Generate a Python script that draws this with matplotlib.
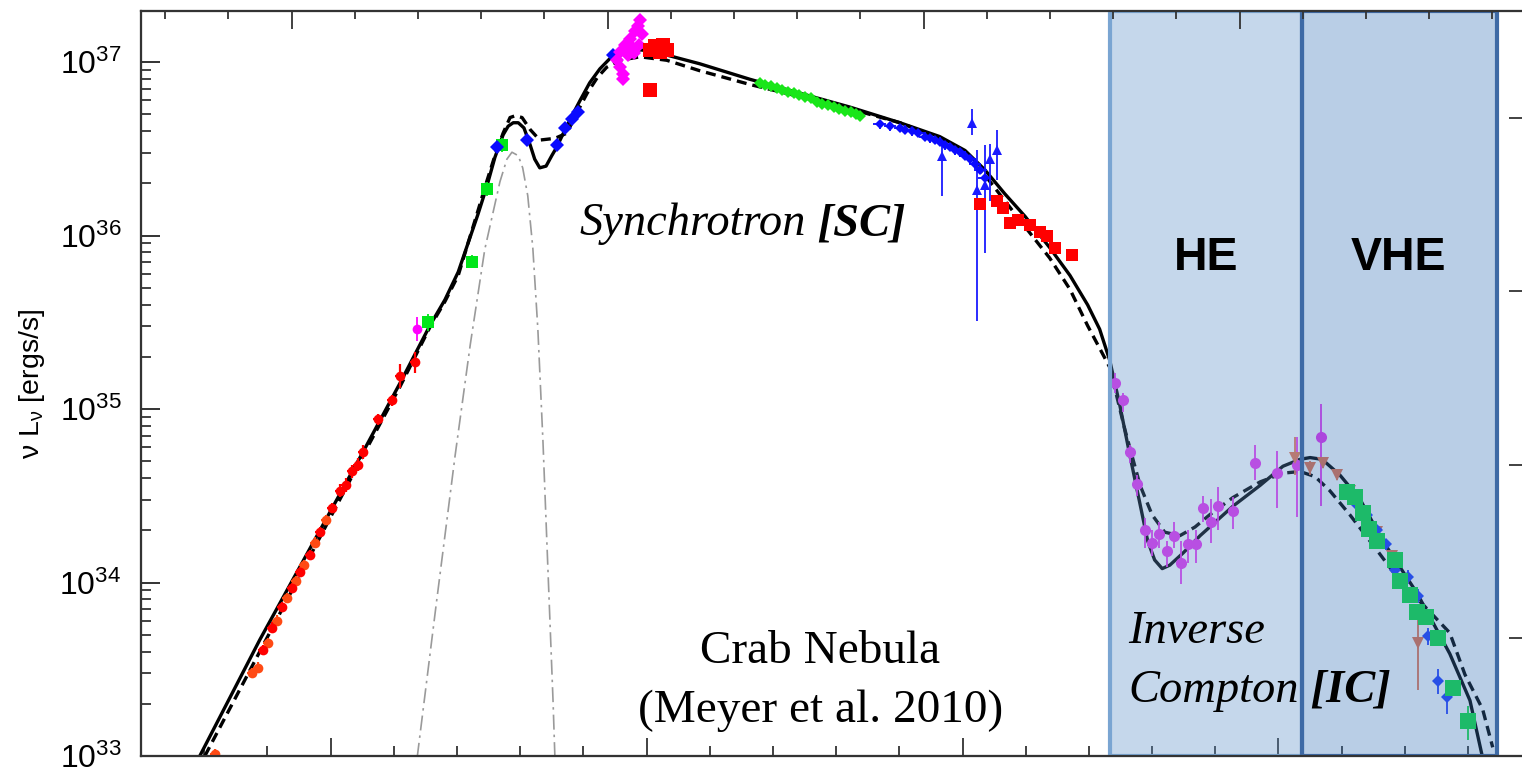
import numpy as np
import matplotlib
matplotlib.use("Agg")
import matplotlib.pyplot as plt
from matplotlib.ticker import FixedLocator, NullFormatter, LogLocator

plt.rcParams['font.family'] = ['Liberation Sans', 'DejaVu Sans']
plt.rcParams['mathtext.fontset'] = 'custom'
plt.rcParams['mathtext.rm'] = 'Liberation Sans'
plt.rcParams['mathtext.it'] = 'Liberation Sans:italic'

# all values are log10(nu / Hz) and log10(nu L_nu / erg s^-1)
HZ_PER_EV = 2.418e14
L_PER_FLUX = 10 ** 44.68          # 4 pi d^2 for d ~ 2 kpc

# --- model curves ---
solid_x = [7.93, 8.88, 10.51, 11.10, 11.57, 11.81, 12.02, 12.17, 12.33, 12.47, 12.60, 12.73,
           12.81, 12.89, 12.97, 13.06, 13.16, 13.23, 13.31, 13.41, 13.50, 13.58, 13.71, 13.82,
           13.95, 14.10, 14.26, 14.42, 14.58, 14.74, 14.90, 15.13, 15.32, 15.84, 16.64, 17.43,
           18.22, 19.01, 19.64, 20.04, 20.35, 20.67, 20.99, 21.38, 21.70, 21.98, 22.17, 22.33,
           22.49, 22.65, 22.81, 22.93, 23.04, 23.16, 23.28, 23.49, 23.76, 24.28, 24.71, 25.07,
           25.34, 25.50, 25.69, 25.97, 26.29, 26.65, 27.19, 27.71, 28.03, 28.23]
solid_y = [33.00, 33.67, 34.75, 35.15, 35.48, 35.63, 35.79, 35.95, 36.12, 36.28, 36.45, 36.58,
           36.63, 36.65, 36.65, 36.62, 36.52, 36.44, 36.39, 36.40, 36.46, 36.51, 36.61, 36.69,
           36.78, 36.88, 36.96, 37.02, 37.05, 37.07, 37.07, 37.06, 37.04, 36.99, 36.90, 36.82,
           36.74, 36.65, 36.57, 36.49, 36.38, 36.24, 36.11, 35.93, 35.77, 35.60, 35.46, 35.28,
           35.02, 34.73, 34.45, 34.24, 34.13, 34.08, 34.10, 34.17, 34.27, 34.44, 34.56, 34.67,
           34.71, 34.72, 34.71, 34.62, 34.48, 34.24, 33.94, 33.59, 33.32, 32.99]

dash_x = [8.01, 10.51, 11.10, 11.57, 11.81, 12.02, 12.17, 12.33, 12.47, 12.60, 12.73, 12.84,
          12.92, 13.03, 13.16, 13.31, 13.55, 13.74, 13.90, 14.06, 14.22, 14.37, 14.58, 14.90,
          15.32, 15.84, 16.64, 17.43, 18.22, 19.01, 19.64, 20.04, 20.35, 20.67, 20.99, 21.38,
          21.70, 21.98, 22.17, 22.33, 22.57, 22.81, 23.00, 23.20, 23.44, 23.68, 23.91, 24.28,
          24.71, 25.07, 25.34, 25.58, 25.81, 26.13, 26.53, 26.92, 27.32, 27.71, 27.95, 28.23,
          28.39]
dash_y = [33.00, 34.73, 35.13, 35.47, 35.62, 35.77, 35.95, 36.14, 36.31, 36.46, 36.59, 36.68,
          36.69, 36.68, 36.61, 36.55, 36.56, 36.59, 36.71, 36.82, 36.91, 36.97, 37.01, 37.03,
          37.01, 36.95, 36.87, 36.80, 36.73, 36.65, 36.56, 36.46, 36.35, 36.20, 36.05, 35.87,
          35.69, 35.48, 35.35, 35.24, 34.88, 34.56, 34.39, 34.29, 34.27, 34.32, 34.39, 34.49,
          34.58, 34.63, 34.64, 34.61, 34.53, 34.39, 34.20, 34.01, 33.86, 33.71, 33.47, 33.27,
          33.05]

dust_x = [11.37, 11.67, 11.97, 12.21, 12.44, 12.68, 12.79, 12.87, 12.97, 13.04, 13.12, 13.20,
          13.28, 13.36, 13.44, 13.52, 13.55]
dust_y = [32.99, 33.87, 34.73, 35.37, 35.92, 36.31, 36.44, 36.48, 36.46, 36.39, 36.23, 35.93,
          35.46, 34.82, 34.07, 33.32, 32.99]

# --- synchrotron data ---
radio_orange_x = [8.17, 8.76, 8.85, 9.01, 9.15, 9.31, 9.45, 9.58, 9.75, 9.93]
radio_orange_y = [33.01, 33.48, 33.51, 33.65, 33.78, 33.91, 34.01, 34.10, 34.23, 34.36]
radio_orange_err = [0.03, 0.03, 0.03, 0.03, 0.03, 0.03, 0.03, 0.03, 0.03, 0.03]
radio_red_x = [8.93, 9.07, 9.23, 9.39, 9.52, 9.67, 9.83, 10.02, 10.15, 10.24, 10.34, 10.43,
               10.51, 10.75, 10.97, 11.10, 11.34]
radio_red_y = [33.61, 33.74, 33.86, 33.97, 34.06, 34.16, 34.29, 34.43, 34.53, 34.56, 34.64,
               34.68, 34.75, 34.94, 35.05, 35.19, 35.27]
radio_red_err = [0.03, 0.03, 0.03, 0.03, 0.03, 0.03, 0.03, 0.03, 0.04, 0.04, 0.04, 0.04,
                 0.04, 0.03, 0.03, 0.07, 0.06]

ir_green_x = [11.54, 12.24, 12.47, 12.71]
ir_green_y = [35.50, 35.85, 36.27, 36.52]
ir_green_err = [0.05, 0.04, 0.04, 0.04]
ir_magenta_x = [11.37]
ir_magenta_y = [35.46]
ir_magenta_err = [0.07]

opt_blue_x = [12.63, 13.11, 13.58, 13.71, 13.82, 13.91, 14.47]
opt_blue_y = [36.51, 36.55, 36.52, 36.62, 36.67, 36.71, 37.04]

opt_magenta_x = [14.53, 14.58, 14.63, 14.66, 14.71, 14.74, 14.78, 14.82, 14.86, 14.90, 14.93,
                 14.58, 14.63, 14.70, 14.80, 14.88]
opt_magenta_y = [37.01, 37.06, 36.93, 37.10, 37.04, 37.13, 37.08, 37.18, 37.21, 37.24, 37.16,
                 36.97, 36.90, 37.07, 37.05, 37.10]

uv_red_x = [15.05, 15.13, 15.21, 15.26, 15.32, 15.05]
uv_red_y = [37.07, 37.09, 37.06, 37.10, 37.07, 36.84]

uvx_green_x = [16.79, 16.88, 16.97, 17.06, 17.15, 17.24, 17.33, 17.42, 17.51, 17.60, 17.69,
               17.78, 17.87, 17.96, 18.05, 18.14, 18.23, 18.32, 18.38]
uvx_green_y = [36.88, 36.87, 36.86, 36.85, 36.84, 36.83, 36.82, 36.81, 36.80, 36.79, 36.77,
               36.76, 36.75, 36.74, 36.73, 36.72, 36.71, 36.70, 36.69]

xray_blue_x = [18.69, 18.85, 19.01, 19.09, 19.20, 19.29, 19.41, 19.48, 19.56, 19.64, 19.72,
               19.80, 19.88, 19.96, 20.04, 20.12, 20.20, 20.28, 20.35]
xray_blue_y = [36.64, 36.63, 36.62, 36.61, 36.60, 36.59, 36.57, 36.56, 36.55, 36.54, 36.52,
               36.51, 36.49, 36.48, 36.46, 36.44, 36.41, 36.38, 36.33]

# blue points with large errors: value, lower, upper
hx_blue_x = [20.15, 20.54, 20.43, 20.23, 19.67, 20.35]
hx_blue_y = [36.65, 36.49, 36.44, 36.26, 36.46, 36.29]
hx_blue_lo = [36.58, 36.32, 36.20, 35.51, 36.23, 35.90]
hx_blue_hi = [36.73, 36.61, 36.53, 36.49, 36.53, 36.52]

hx_red_x = [20.28, 20.54, 20.64, 20.75, 20.88, 21.07, 21.22, 21.34, 21.46, 21.73]
hx_red_y = [36.18, 36.20, 36.16, 36.07, 36.09, 36.06, 36.02, 36.00, 35.93, 35.89]

# --- inverse Compton data: value, lower, upper ---
he_x = [22.41, 22.54, 22.65, 22.76, 22.89, 23.00, 23.11, 23.23, 23.34, 23.46, 23.57, 23.69,
        23.80, 23.93, 24.04, 24.28, 24.63, 24.97, 25.29, 25.67]
he_y = [35.15, 35.05, 34.75, 34.57, 34.30, 34.23, 34.28, 34.18, 34.27, 34.11, 34.22, 34.22,
        34.43, 34.35, 34.44, 34.41, 34.69, 34.63, 34.68, 34.84]
he_lo = [35.09, 34.98, 34.69, 34.50, 34.20, 34.15, 34.20, 34.09, 34.20, 33.99, 34.11, 34.11,
         34.35, 34.23, 34.30, 34.31, 34.59, 34.43, 34.38, 34.44]
he_hi = [35.21, 35.09, 34.79, 34.62, 34.37, 34.30, 34.35, 34.24, 34.35, 34.24, 34.30, 34.30,
         34.50, 34.48, 34.55, 34.49, 34.79, 34.76, 34.84, 35.03]

brown_x = [25.26, 25.50, 25.70, 25.92, 26.13, 26.34, 26.56, 26.79, 27.00, 27.21]
brown_y = [34.72, 34.66, 34.69, 34.62, 34.53, 34.40, 34.29, 34.15, 33.99, 33.65]
brown_lo = [34.62, 34.62, 34.66, 34.59, 34.50, 34.37, 34.26, 34.12, 33.95, 33.38]
brown_hi = [34.84, 34.70, 34.72, 34.65, 34.56, 34.43, 34.32, 34.18, 34.03, 33.82]

vhe_blue_x = [26.05, 26.21, 26.40, 26.56, 26.70, 26.84, 27.05, 27.21, 27.36, 27.52, 27.66]
vhe_blue_y = [34.53, 34.46, 34.39, 34.30, 34.22, 34.07, 34.03, 33.92, 33.69, 33.43, 33.34]
vhe_blue_lo = [34.50, 34.43, 34.36, 34.27, 34.19, 34.04, 33.99, 33.88, 33.64, 33.36, 33.24]
vhe_blue_hi = [34.56, 34.49, 34.42, 34.33, 34.25, 34.10, 34.07, 33.96, 33.74, 33.50, 33.43]

vhe_green_x = [26.08, 26.21, 26.34, 26.43, 26.56, 26.84, 26.92, 27.08, 27.19, 27.33, 27.52,
               27.76, 28.00]
vhe_green_y = [34.52, 34.49, 34.40, 34.31, 34.24, 34.13, 34.01, 33.93, 33.83, 33.80, 33.68,
               33.39, 33.20]
vhe_green_lo = [34.49, 34.46, 34.37, 34.28, 34.21, 34.10, 33.98, 33.90, 33.80, 33.77, 33.65,
                33.35, 33.09]
vhe_green_hi = [34.55, 34.52, 34.43, 34.34, 34.27, 34.16, 34.04, 33.96, 33.86, 33.83, 33.71,
                33.43, 33.29]

# energy bands (log10 nu)
he_band = (22.33, 25.37)
vhe_band = (25.37, 28.46)


def lin(a):
    return 10.0 ** np.asarray(a, dtype=float)


fig = plt.figure(figsize=(15.22, 7.72), dpi=100)
ax = fig.add_axes([141 / 1522, 16 / 772, 1389 / 1522, 745 / 772])
ax.set_xscale('log')
ax.set_yscale('log')
xlim = (lin(7.0), lin(28.98))
ylim = (lin(33.0), lin(37.294))
ax.set_xlim(*xlim)
ax.set_ylim(*ylim)


def pts(x, y, lo, hi, color, marker, ms, cap=5, xe=None, elw=1.3):
    yy = lin(y)
    yerr = [yy - lin(lo), lin(hi) - yy]
    xerr = None
    if xe is not None:
        xx = lin(x)
        xerr = [xx - lin(np.asarray(x) - xe), lin(np.asarray(x) + xe) - xx]
    ax.errorbar(lin(x), yy, yerr=yerr, xerr=xerr, fmt=marker, color=color, ms=ms,
                capsize=cap, elinewidth=elw, capthick=elw, zorder=3, mew=0)


def sym(x, y, err, color, marker, ms, cap=5, xe=None, elw=1.3):
    y = np.asarray(y)
    err = np.asarray(err)
    pts(x, y, y - err, y + err, color, marker, ms, cap, xe, elw)


# curves
ax.plot(lin(dust_x), lin(dust_y), color='#9a9a9a', lw=1.2, ls=(0, (9, 3, 1.5, 3)), zorder=2)
ax.plot(lin(solid_x), lin(solid_y), color='black', lw=2.4, zorder=2.8)
ax.plot(lin(dash_x), lin(dash_y), color='black', lw=2.4, ls=(0, (3, 1.8)), zorder=2.8)

# synchrotron data
sym(radio_orange_x, radio_orange_y, radio_orange_err, '#ff4a14', 'o', 7, 8, xe=0.08, elw=1.6)
sym(radio_red_x, radio_red_y, radio_red_err, '#ff0000', 'o', 7, 8, xe=0.08, elw=1.6)
sym(ir_magenta_x, ir_magenta_y, ir_magenta_err, '#ff00ff', 'o', 7, 6)
sym(ir_green_x, ir_green_y, ir_green_err, '#00e619', 's', 9, 7)
sym(opt_blue_x, opt_blue_y, [0.02] * len(opt_blue_x), '#0a0aff', 'D', 7, 6, xe=0.05)
sym(opt_magenta_x, opt_magenta_y, [0.03] * len(opt_magenta_x), '#ff00ff', 'D', 7, 7, xe=0.05)
sym(uv_red_x, uv_red_y, [0.04] * len(uv_red_x), '#ff0000', 's', 10, 7)
sym(uvx_green_x, uvx_green_y, [0.015] * len(uvx_green_x), '#19e619', 'D', 6, 3, xe=0.06)
sym(xray_blue_x, xray_blue_y, [0.025] * len(xray_blue_x), '#0a0aff', 'D', 5, 5, xe=0.1)
pts(hx_blue_x, hx_blue_y, hx_blue_lo, hx_blue_hi, '#1a1aff', '^', 7, 8)
sym(hx_red_x, hx_red_y, [0.025] * len(hx_red_x), '#ff0000', 's', 9, 7)

# inverse Compton data
pts(he_x, he_y, he_lo, he_hi, '#ec2ef2', 'o', 8, 7)
pts(brown_x, brown_y, brown_lo, brown_hi, '#e8704a', 'v', 8, 7)
pts(vhe_blue_x, vhe_blue_y, vhe_blue_lo, vhe_blue_hi, '#1f3cff', 'D', 6, 7)
pts(vhe_green_x, vhe_green_y, vhe_green_lo, vhe_green_hi, '#10e040', 's', 11, 7)

# energy band overlays
ax.axvspan(lin(he_band[0]), lin(he_band[1]), facecolor=(89 / 255, 141 / 255, 198 / 255, 0.35),
           edgecolor='#7aa5d2', lw=3, zorder=4)
ax.axvspan(lin(vhe_band[0]), lin(vhe_band[1]), facecolor=(55 / 255, 115 / 255, 184 / 255, 0.35),
           edgecolor='#3e6aa5', lw=3, zorder=4)

# ticks
ax.xaxis.set_major_locator(FixedLocator([1e10, 1e15, 1e20, 1e25]))
ax.xaxis.set_minor_locator(FixedLocator([10.0 ** k for k in range(7, 30)]))
ax.xaxis.set_major_formatter(NullFormatter())
ax.xaxis.set_minor_formatter(NullFormatter())
ax.yaxis.set_major_locator(LogLocator(base=10))
ax.yaxis.set_minor_locator(LogLocator(base=10, subs=np.arange(2, 10)))
ax.yaxis.set_minor_formatter(NullFormatter())
ax.tick_params(axis='x', which='major', direction='in', length=13, width=1.3, color='#333333')
ax.tick_params(axis='x', which='minor', direction='in', length=7, width=1.3, color='#333333')
ax.tick_params(axis='y', which='major', direction='in', length=14, width=1.4, color='#333333',
               labelsize=23, pad=14)
ax.tick_params(axis='y', which='minor', direction='in', length=7, width=1.3, color='#333333')
ax.tick_params(top=False, right=False, which='both')

axt = ax.twiny()
axt.set_xscale('log')
axt.set_xlim(xlim[0] / HZ_PER_EV, xlim[1] / HZ_PER_EV)
axt.xaxis.set_major_locator(FixedLocator([1e-10, 1e-5, 1.0, 1e5, 1e10, 1e15]))
axt.xaxis.set_minor_locator(FixedLocator([10.0 ** k for k in range(-8, 16)]))
axt.xaxis.set_major_formatter(NullFormatter())
axt.xaxis.set_minor_formatter(NullFormatter())
axt.tick_params(axis='x', which='major', direction='in', length=13, width=1.3, color='#333333')
axt.tick_params(axis='x', which='minor', direction='in', length=6, width=1.3, color='#333333')

axr = ax.twinx()
axr.set_yscale('log')
axr.set_ylim(ylim[0] / L_PER_FLUX, ylim[1] / L_PER_FLUX)
axr.yaxis.set_major_locator(LogLocator(base=10))
axr.yaxis.set_minor_locator(FixedLocator([]))
axr.tick_params(axis='y', which='major', direction='in', length=15, width=1.3, color='#333333',
                labelright=False)

for a in (ax, axt, axr):
    for s in a.spines.values():
        s.set_linewidth(1.5)
        s.set_color('#333333')

ax.set_ylabel("ν L$_{\\mathregular{ν}}$ [ergs/s]", fontsize=20.5)
ax.yaxis.set_label_coords(-0.068, 0.5)

# annotations
serif = 'Liberation Serif'
t1 = ax.text(0.316, 0.699, "Synchrotron", transform=ax.transAxes, family=serif,
             style='italic', fontsize=33.5, va='baseline', ha='left', zorder=5)
ax.annotate(" [SC]", xy=(1, 0), xycoords=t1, family=serif, style='italic', weight='bold',
            fontsize=33.5, va='bottom', ha='left', zorder=5)
ax.text(0.489, 0.125, "Crab Nebula", transform=ax.transAxes, family=serif, fontsize=34,
        va='baseline', ha='center', zorder=5)
ax.text(0.489, 0.0456, "(Meyer et al. 2010)", transform=ax.transAxes, family=serif,
        fontsize=34, va='baseline', ha='center', zorder=5)
ax.text(0.767, 0.652, "HE", transform=ax.transAxes, fontsize=33.5, weight='bold',
        va='baseline', ha='center', zorder=5)
ax.text(0.905, 0.652, "VHE", transform=ax.transAxes, fontsize=33.5, weight='bold',
        va='baseline', ha='center', zorder=5)
ax.text(0.7106, 0.152, "Inverse", transform=ax.transAxes, family=serif, style='italic',
        fontsize=33.5, va='baseline', ha='left', zorder=5)
t2 = ax.text(0.7106, 0.0725, "Compton", transform=ax.transAxes, family=serif, style='italic',
             fontsize=33.5, va='baseline', ha='left', zorder=5)
ax.annotate(" [IC]", xy=(1, 0), xycoords=t2, family=serif, style='italic', weight='bold',
            fontsize=33.5, va='bottom', ha='left', zorder=5)

fig.savefig('out.png', dpi=100)
